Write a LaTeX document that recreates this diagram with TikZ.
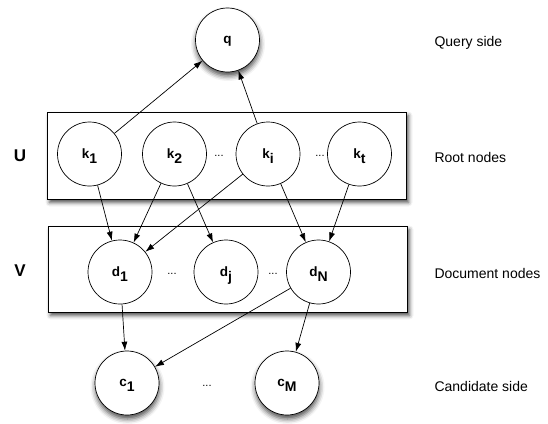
\documentclass[tikz,border=0pt]{standalone}
\usepackage{fontspec}
\setmainfont{Liberation Sans}
\usetikzlibrary{arrows.meta, shadows.blur}
% lowered index, a little larger than the letter
\newcommand{\idx}[2]{#1\raisebox{-5pt}{\fontsize{14}{16}\selectfont #2}}

\begin{document}
\begin{tikzpicture}[
  x=1pt, y=-1pt,
  var/.style={draw, circle, fill=white, minimum size=64pt, inner sep=0pt,
              line width=0.7pt, text depth=0pt,
              font=\bfseries\fontsize{13.5}{15}\selectfont},
  outer/.style={var, blur shadow={shadow xshift=0.5pt, shadow yshift=-4pt,
              shadow blur radius=5pt, shadow opacity=70}},
  layer/.style={draw, fill=white, line width=0.9pt, inner sep=0pt,
              blur shadow={shadow xshift=2.5pt, shadow yshift=-3.5pt,
              shadow blur radius=4pt, shadow opacity=70}},
  arr/.style={-{Latex[length=9pt, width=6pt]}, line width=0.7pt},
  side/.style={anchor=west, font=\fontsize{14}{16}\selectfont},
  setname/.style={font=\bfseries\fontsize{17}{19}\selectfont},
  dots/.style={font=\fontsize{11}{13}\selectfont}
]
\useasboundingbox (0,0) rectangle (548,423);

% layer boxes
\node[layer, minimum width=359pt, minimum height=87pt] (ubox) at (226.5,155.5) {};
\node[layer, minimum width=359pt, minimum height=86pt] (vbox) at (227.5,269) {};
\node[setname] (U) at (20,156) {U};
\node[setname] (V) at (20,271) {V};

% query
\node[outer] (q) at (227.5,40) {q};

% root nodes
\node[var] (k1) at (89.5,154) {\idx{k}{1}};
\node[var] (k2) at (174.5,154) {\idx{k}{2}};
\node[var] (ki) at (268,154) {\idx{k}{i}};
\node[var] (kt) at (359.5,154) {\idx{k}{t}};
\node[dots] (kd1) at (219,156) {...};
\node[dots] (kd2) at (320,156) {...};

% document nodes
\node[var] (d1) at (120,272) {\idx{d}{1}};
\node[var] (dj) at (226,272) {\idx{d}{j}};
\node[var] (dN) at (318.5,272) {\idx{d}{N}};
\node[dots] (dd1) at (172,274) {...};
\node[dots] (dd2) at (273,274) {...};

% candidates
\node[outer] (c1) at (127,383) {\idx{c}{1}};
\node[outer] (cM) at (287,383) {\idx{c}{M}};
\node[dots] (cd) at (207,386) {...};

% side labels
\node[side] (qs) at (431,43) {Query side};
\node[side] (rs) at (431,157) {Root nodes};
\node[side] (ds) at (431,273) {Document nodes};
\node[side] (cs) at (431,386) {Candidate side};

\draw[arr] (k1) -- (q);
\draw[arr] (ki) -- (q);
\draw[arr] (k1) -- (d1);
\draw[arr] (k2) -- (d1);
\draw[arr] (k2) -- (dj);
\draw[arr] (ki) -- (d1);
\draw[arr] (ki) -- (dN);
\draw[arr] (kt) -- (dN);
\draw[arr] (d1) -- (c1);
\draw[arr] (dN) -- (c1);
\draw[arr] (dN) -- (cM);
\end{tikzpicture}
\end{document}
